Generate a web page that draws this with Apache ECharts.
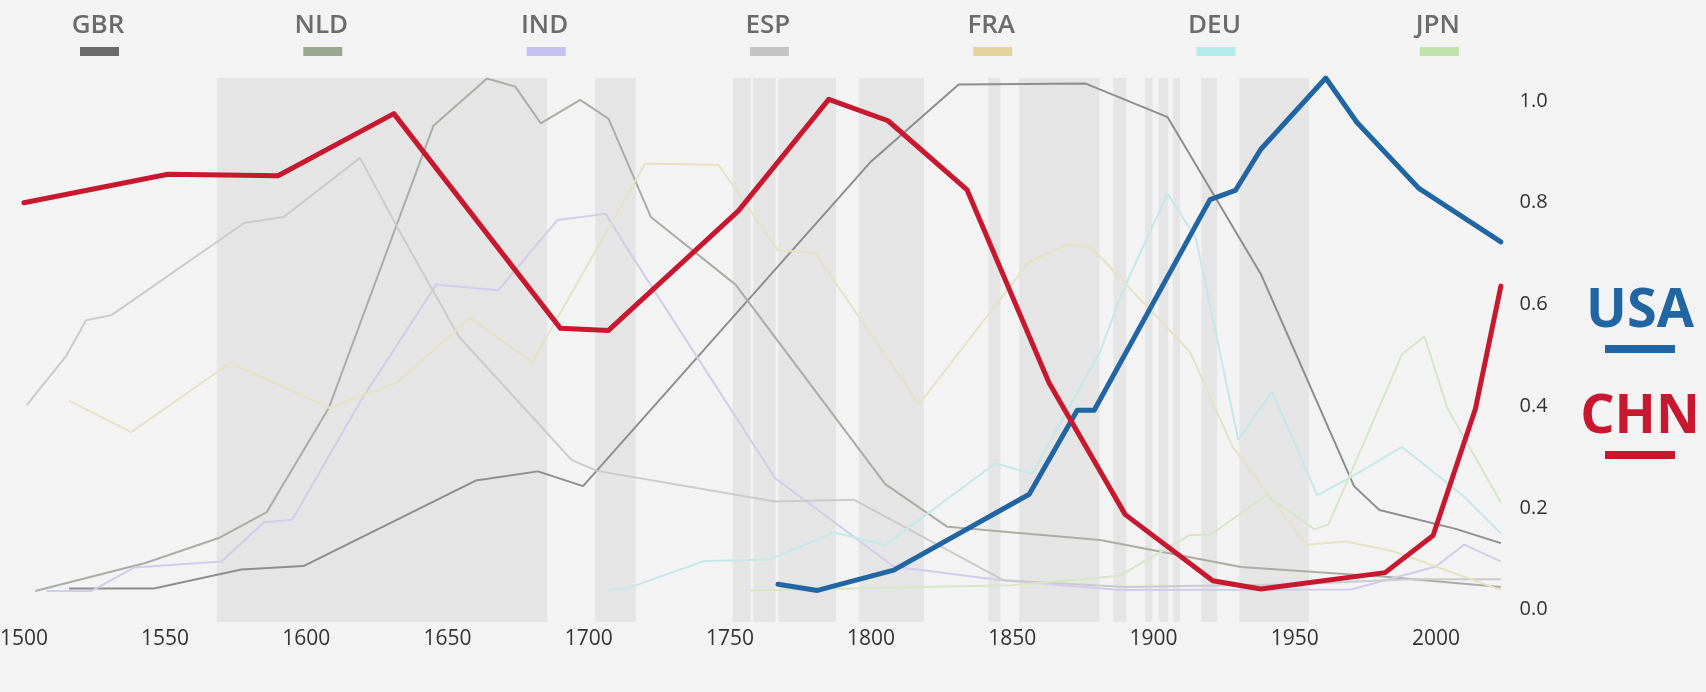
<!DOCTYPE html>
<html><head><meta charset="utf-8">
<script src="https://cdn.jsdelivr.net/npm/echarts@6/dist/echarts.min.js"></script>
<style>html,body{margin:0;padding:0;background:#f3f3f3;}#c{width:1706px;height:692px;}</style>
</head><body><div id="c"></div>
<script>
// ---- data ----
const xTicks = [1500,1550,1600,1650,1700,1750,1800,1850,1900,1950,2000];
const yTicks = [0,0.2,0.4,0.6,0.8,1.0];
const legendNames = ['GBR','NLD','IND','ESP','FRA','DEU','JPN'];
const legendColors = ['#6b6b6b','#9aa88f','#c4c0ef','#c4c4c4','#e5d39d','#b1ecea','#bfe3a9'];
const lineColors = ['#8e8e8e','#a9ada6','#d0cee8','#cbcbcb','#e5e3c6','#c4e9e7','#d8e6c8'];

const GBR = [[1516,0.042],[1546,0.042],[1577,0.079],[1599,0.086],[1660,0.254],[1682,0.272],[1698,0.243],[1800,0.881],[1831,1.032],[1876,1.034],[1905,0.968],[1938,0.66],[1971,0.243],[1980,0.196],[2007,0.159],[2023,0.131]];
const NLD = [[1504,0.037],[1543,0.092],[1569,0.141],[1586,0.192],[1608,0.397],[1645,0.951],[1664,1.044],[1674,1.028],[1683,0.956],[1697,1.002],[1707,0.965],[1722,0.772],[1752,0.639],[1805,0.247],[1827,0.163],[1881,0.137],[1931,0.084],[1982,0.065],[2023,0.045]];
const IND = [[1508,0.037],[1524,0.037],[1539,0.083],[1570,0.095],[1585,0.172],[1595,0.177],[1619,0.408],[1646,0.639],[1668,0.628],[1689,0.766],[1706,0.778],[1715,0.698],[1766,0.259],[1808,0.085],[1846,0.058],[1888,0.039],[1970,0.04],[2000,0.085],[2010,0.128],[2023,0.095]];
const ESP = [[1501,0.402],[1515,0.499],[1522,0.569],[1531,0.579],[1578,0.76],[1592,0.772],[1619,0.888],[1633,0.744],[1654,0.537],[1694,0.294],[1703,0.273],[1766,0.213],[1794,0.216],[1847,0.058],[1890,0.045],[1950,0.05],[1990,0.06],[2023,0.06]];
const FRA = [[1516,0.411],[1538,0.349],[1573,0.485],[1608,0.397],[1632,0.446],[1658,0.574],[1680,0.486],[1720,0.877],[1746,0.874],[1767,0.706],[1780,0.702],[1817,0.404],[1856,0.684],[1870,0.719],[1878,0.712],[1913,0.506],[1928,0.32],[1954,0.128],[1968,0.134],[1985,0.115],[2023,0.039]];
const DEU = [[1707,0.038],[1714,0.043],[1741,0.096],[1764,0.099],[1787,0.152],[1805,0.127],[1844,0.288],[1857,0.267],[1881,0.506],[1889,0.625],[1905,0.818],[1915,0.73],[1930,0.334],[1942,0.429],[1958,0.225],[1971,0.264],[1988,0.32],[2010,0.222],[2023,0.15]];
const JPN = [[1757,0.038],[1850,0.048],[1888,0.067],[1913,0.147],[1920,0.147],[1940,0.225],[1957,0.158],[1962,0.168],[1988,0.502],[1996,0.537],[2004,0.397],[2023,0.211]];
const USA = [[1767,0.05],[1781,0.038],[1808,0.078],[1856,0.227],[1873,0.392],[1879,0.392],[1920,0.806],[1929,0.824],[1938,0.905],[1961,1.045],[1972,0.958],[1994,0.828],[2023,0.723]];
const CHN = [[1500,0.80],[1551,0.856],[1590,0.853],[1631,0.975],[1690,0.553],[1707,0.549],[1753,0.784],[1785,1.003],[1806,0.961],[1834,0.825],[1863,0.446],[1890,0.187],[1921,0.057],[1938,0.041],[1982,0.073],[1999,0.146],[2014,0.395],[2023,0.636]];
const bands = [[1568.3,1685.3],[1702.3,1716.7],[1751,1757.3],[1758.3,1766.2],[1767.2,1787.6],[1795.6,1818.7],[1841.5,1845.8],[1852.4,1880.9],[1885.8,1890.4],[1897,1899.6],[1901.8,1905.2],[1906.9,1909.4],[1917,1922.6],[1930.4,1955]];
const minorData = [GBR, NLD, IND, ESP, FRA, DEU, JPN];

// ---- chart ----
const chart = echarts.init(document.getElementById('c'), null, {renderer:'canvas'});
const FONT = '"Open Sans", "Noto Sans", sans-serif';

const series = [];
series.push({
  type:'line', data:[], silent:true, z:1,
  markArea:{silent:true, itemStyle:{color:'#e5e5e5'},
    data: bands.map(b => [{xAxis:b[0]},{xAxis:b[1]}])}
});
minorData.forEach((d,i) => {
  series.push({type:'line', name:legendNames[i], data:d, symbol:'none', z:2,
    lineStyle:{color:lineColors[i], width:2}});
});
series.push({type:'line', name:'USA', data:USA, symbol:'none', z:5,
  lineStyle:{color:'#2166a3', width:5, cap:'round', join:'round'}});
series.push({type:'line', name:'CHN', data:CHN, symbol:'none', z:6,
  lineStyle:{color:'#c8182f', width:5, cap:'round', join:'round'}});

const graphic = [];
legendNames.forEach((n,i) => {
  const cx = 98 + i*223.3;
  graphic.push({type:'text', x:cx, y:26, style:{text:n, textAlign:'center', textVerticalAlign:'middle',
    fontSize:26, fontWeight:600, fontFamily:FONT, fill:'#6b6b6b'}});
  graphic.push({type:'rect', shape:{x:cx-18, y:47, width:39, height:9}, style:{fill:legendColors[i]}});
});
graphic.push({type:'text', x:1640, y:312, style:{text:'USA', textAlign:'center', textVerticalAlign:'middle',
  fontSize:54, fontWeight:700, fontFamily:FONT, fill:'#2166a3'}});
graphic.push({type:'rect', shape:{x:1605, y:345, width:70, height:8}, style:{fill:'#2166a3'}});
graphic.push({type:'text', x:1640, y:418, style:{text:'CHN', textAlign:'center', textVerticalAlign:'middle',
  fontSize:54, fontWeight:700, fontFamily:FONT, fill:'#c8182f'}});
graphic.push({type:'rect', shape:{x:1605, y:451, width:70, height:8}, style:{fill:'#c8182f'}});

chart.setOption({
  backgroundColor:'#f3f3f3',
  animation:false,
  grid:{left:23.9, right:199.5, top:78, bottom:70, containLabel:false, outerBoundsMode:'none'},
  xAxis:{type:'value', min:1500, max:2025,
    axisLine:{show:false}, axisTick:{show:false}, splitLine:{show:false},
    axisLabel:{customValues:xTicks, fontSize:21, color:'#333', fontFamily:FONT, margin:7,
      formatter:v=>String(v)}},
  yAxis:{type:'value', position:'right', min:-0.024, max:1.045,
    axisLine:{show:false}, axisTick:{show:false}, splitLine:{show:false},
    axisLabel:{customValues:yTicks, fontSize:20, color:'#333', fontFamily:FONT, margin:13,
      formatter:v=>v.toFixed(1)}},
  series, graphic
});
</script></body></html>
